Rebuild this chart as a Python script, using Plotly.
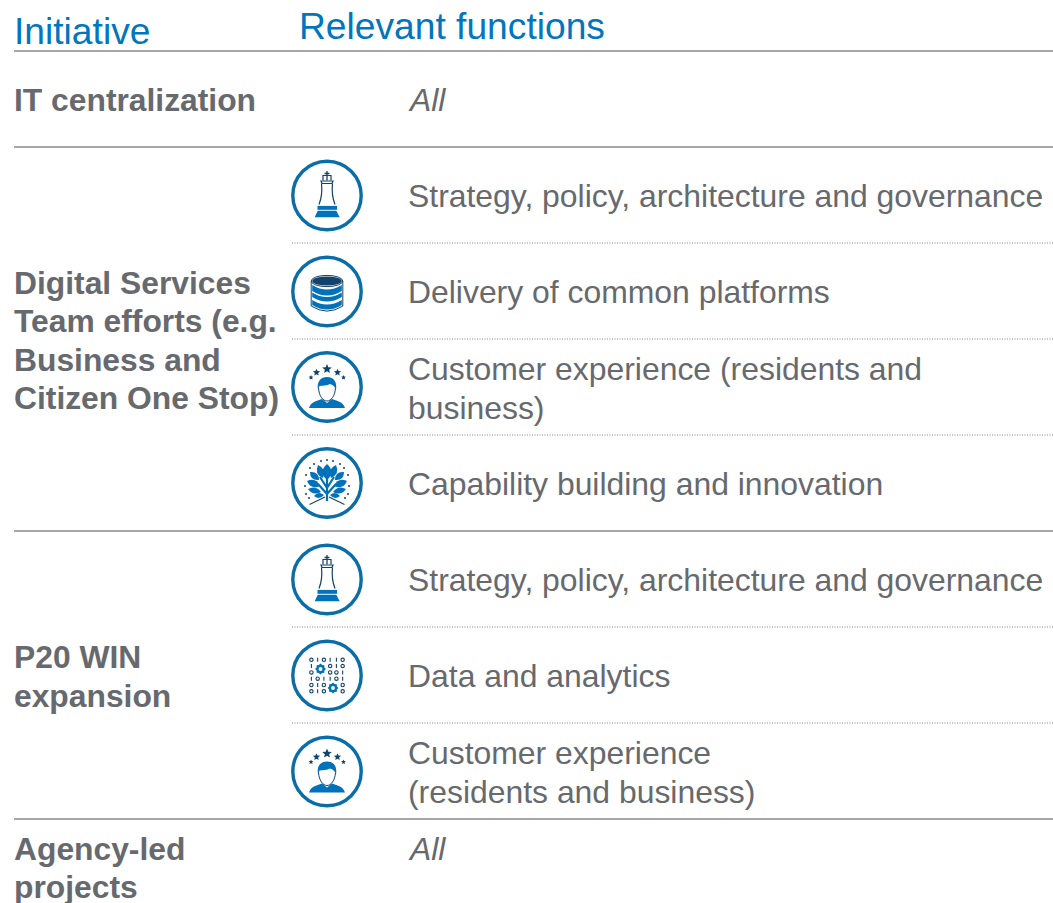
import math
import plotly.graph_objects as go

W, H = 1053, 903
BLUE = "#0076BE"
ICON = "#0072BC"
RING = "#0A6DA8"
NAVY = "#13426B"
GREY = "#66696E"
RULE = "#A6A6A6"
DOT = "#A9A9A9"
FONT = "Liberation Sans, Arial, sans-serif"

# ---------- content ----------
headers = [("Initiative", 14, 31), ("Relevant functions", 299, 26)]
initiatives = [
    ("IT centralization", 14, 100),
    ("Digital Services", 14, 283),
    ("Team efforts (e.g.", 14, 321),
    ("Business and", 14, 360),
    ("Citizen One Stop)", 14, 398),
    ("P20 WIN", 14, 657),
    ("expansion", 14, 696),
    ("Agency-led", 14, 849),
    ("projects", 14, 887),
]
all_labels = [("All", 408, 100), ("All", 408, 849)]
functions = [
    ("Strategy, policy, architecture and governance", 196),
    ("Delivery of common platforms", 292),
    ("Customer experience (residents and", 369),
    ("business)", 408),
    ("Capability building and innovation", 484),
    ("Strategy, policy, architecture and governance", 580),
    ("Data and analytics", 676),
    ("Customer experience", 753),
    ("(residents and business)", 792),
]
solid_rules = [51, 147, 531, 819]
dotted_rules = [243, 339, 435, 627, 723]
icons = [
    ("chess", 195.5), ("database", 291.5), ("person", 387), ("tree", 483),
    ("chess", 579.5), ("binary", 675.5), ("person", 771.5),
]
ICON_X = 327
binary_rows = ["010110", "1  010", "0  001", "101101", "010  0", "010  0"]

# ---------- helpers ----------
shapes = []


def add_path(d, fill=None, color=None, width=0):
    shapes.append(dict(
        type="path", path=d, fillcolor=fill or "rgba(0,0,0,0)",
        line=dict(color=color or "rgba(0,0,0,0)", width=width), layer="above",
    ))


def poly(pts, cx, cy, closed=True):
    s = "M" + " L".join(f"{cx + x:.2f},{cy + y:.2f}" for x, y in pts)
    return s + (" Z" if closed else "")


def ellipse(cx, cy, rx, ry, fill=None, color=None, width=0):
    shapes.append(dict(
        type="circle", x0=cx - rx, x1=cx + rx, y0=cy - ry, y1=cy + ry,
        fillcolor=fill or "rgba(0,0,0,0)",
        line=dict(color=color or "rgba(0,0,0,0)", width=width), layer="above",
    ))


def star(cx, cy, r, fill=NAVY):
    pts = []
    for i in range(10):
        a = -math.pi / 2 + i * math.pi / 5
        rr = r if i % 2 == 0 else r * 0.45
        pts.append((rr * math.cos(a), rr * math.sin(a)))
    add_path(poly(pts, cx, cy), fill=fill)


def leaf(cx, cy, bx, by, tx, ty, w, fill=ICON):
    bx, by, tx, ty = cx + bx, cy + by, cx + tx, cy + ty
    mx, my = (bx + tx) / 2, (by + ty) / 2
    dx, dy = tx - bx, ty - by
    n = math.hypot(dx, dy)
    px, py = -dy / n * w, dx / n * w
    add_path(
        f"M{bx:.2f},{by:.2f} Q{mx + px:.2f},{my + py:.2f} {tx:.2f},{ty:.2f} "
        f"Q{mx - px:.2f},{my - py:.2f} {bx:.2f},{by:.2f} Z", fill=fill)


def ring(cx, cy):
    ellipse(cx, cy, 34.2, 34.2, fill="#FFFFFF", color=RING, width=3.4)


def chess(cx, cy):
    ring(cx, cy)
    add_path(poly([(-12.3, 21.7), (12.7, 21.7), (9.3, 15.2), (-9.3, 15.2)], cx, cy), fill=ICON)
    add_path(poly([(-9.5, 10.4), (10, 10.4), (10, 14.3), (-9.5, 14.3)], cx, cy), fill=ICON)
    # body outline
    add_path(f"M{cx - 5.5},{cy - 12} C{cx - 4.5},{cy - 3} {cx - 6},{cy + 4} {cx - 8},{cy + 9}",
             color=NAVY, width=1.2)
    add_path(f"M{cx + 5.5},{cy - 12} C{cx + 4.5},{cy - 3} {cx + 6},{cy + 4} {cx + 8},{cy + 9}",
             color=NAVY, width=1.2)
    add_path(poly([(-6, -14.5), (6, -14.5), (5, -12), (-5, -12)], cx, cy), color=NAVY, width=1.2)
    add_path(f"M{cx - 4},{cy - 15} L{cx - 4},{cy - 20} L{cx + 4},{cy - 20} L{cx + 4},{cy - 15}",
             color=NAVY, width=1.2)
    add_path(f"M{cx},{cy - 24.5} L{cx},{cy - 15} M{cx - 2.5},{cy - 22} L{cx + 2.5},{cy - 22}",
             color=NAVY, width=1.3)


def database(cx, cy):
    ring(cx, cy)
    rx, ry = 14.8, 4.6
    t, b = -10.5, 14.5
    # outer outline
    add_path(f"M{cx - rx - 1},{cy + t} L{cx - rx - 1},{cy + b} "
             f"Q{cx},{cy + b + 2 * ry + 1} {cx + rx + 1},{cy + b} L{cx + rx + 1},{cy + t}",
             color=NAVY, width=1)
    ellipse(cx, cy + t, rx + 1, ry + 1, fill="#FFFFFF", color=NAVY, width=1)
    for top, bot in [(-6.5, -0.5), (1, 5.5), (8.5, 13.5)]:
        add_path(f"M{cx - rx},{cy + top} Q{cx},{cy + top + 2 * ry} {cx + rx},{cy + top} "
                 f"L{cx + rx},{cy + bot} Q{cx},{cy + bot + 2 * ry} {cx - rx},{cy + bot} Z", fill=ICON)
    ellipse(cx, cy + t, rx, ry, fill=NAVY)


def person(cx, cy):
    ring(cx, cy)
    for dx, dy, r in [(-16, -9.5, 2.6), (-10.5, -14.5, 3.8), (0, -18, 5), (10.5, -14.5, 3.8), (16.5, -9.5, 2.6)]:
        star(cx + dx, cy + dy, r)
    # shoulders
    add_path(f"M{cx - 18},{cy + 21} C{cx - 16},{cy + 15} {cx - 11},{cy + 14} {cx - 5},{cy + 12} "
             f"L{cx},{cy + 16} L{cx + 5},{cy + 12} C{cx + 11},{cy + 14} {cx + 16},{cy + 15} {cx + 18},{cy + 21} Z",
             fill=ICON)
    # face outline
    add_path(f"M{cx - 8.5},{cy + 1} C{cx - 8},{cy + 9} {cx - 4},{cy + 14} {cx},{cy + 14} "
             f"C{cx + 4},{cy + 14} {cx + 8},{cy + 9} {cx + 8.5},{cy + 1}", color=NAVY, width=1)
    # hair
    add_path(f"M{cx - 9},{cy + 3} C{cx - 10.5},{cy - 6} {cx - 6},{cy - 10} {cx},{cy - 10} "
             f"C{cx + 6},{cy - 10} {cx + 10.5},{cy - 6} {cx + 9},{cy + 3} "
             f"C{cx + 7.5},{cy - 1} {cx + 6},{cy - 2} {cx + 3},{cy - 3} "
             f"C{cx},{cy - 1.5} {cx - 4},{cy - 1.5} {cx - 7.5},{cy - 1} Z", fill=ICON)


def tree(cx, cy):
    ring(cx, cy)
    # trunk and branches
    add_path(f"M{cx},{cy + 18} L{cx},{cy - 6} M{cx},{cy + 11} L{cx - 9},{cy + 1} "
             f"M{cx},{cy + 11} L{cx + 9},{cy + 1} M{cx},{cy + 5} L{cx - 7},{cy - 6} "
             f"M{cx},{cy + 5} L{cx + 7},{cy - 6}", color=ICON, width=2.2)
    # ground lines
    add_path(f"M{cx - 17.5},{cy + 21.5} L{cx - 2},{cy + 14}", color=NAVY, width=1.2)
    add_path(f"M{cx + 17.5},{cy + 21.5} L{cx + 2},{cy + 14}", color=NAVY, width=1.2)
    # leaves: base x/y, tip x/y, half-width
    for bx, by, tx, ty, w in [
        (0, -3, 0, -19, 9), (-4, -5, -9, -18, 7), (4, -5, 9, -18, 7),
        (-8, -3, -17, -11, 6.5), (8, -3, 17, -11, 6.5), (-7, 3, -20, -2, 7), (7, 3, 20, -2, 7),
        (-6, 9, -19, 6, 6), (6, 9, 19, 6, 6), (-3, 12, -13, 13, 5), (3, 12, 13, 13, 5),
    ]:
        leaf(cx, cy, bx, by, tx, ty, w)
    for dx, dy in [(-17, -15), (-13, -19), (-6, -22), (0, -23), (6, -22), (13, -19), (17, -15),
                   (-21, -8), (21, -8), (-22, 3), (22, 3), (-21, 11), (21, 11), (-18, 15), (18, 15)]:
        ellipse(cx + dx, cy + dy, 1, 1, fill=NAVY)


def gear(cx, cy, r):
    pts = []
    for i in range(16):
        a = i * math.pi / 8
        rr = r * (1.18 if i % 2 == 0 else 0.92)
        pts.append((rr * math.cos(a), rr * math.sin(a)))
    add_path(poly(pts, cx, cy), fill=ICON)
    ellipse(cx, cy, r * 0.42, r * 0.42, fill="#FFFFFF")


def binary(cx, cy):
    ring(cx, cy)
    for r, row in enumerate(binary_rows):
        yy = cy - 15.7 + r * 6.3
        for c, ch in enumerate(row):
            xx = cx - 15.6 + c * 6.25
            if ch == "0":
                ellipse(xx, yy, 1.7, 1.7, color=NAVY, width=1.1)
            elif ch == "1":
                add_path(f"M{xx},{yy - 2} L{xx},{yy + 2}", color=NAVY, width=1.1)
    gear(cx - 6.5, cy - 6.5, 4.6)
    gear(cx + 6, cy + 12.5, 4.6)


drawers = dict(chess=chess, database=database, person=person, tree=tree, binary=binary)

# ---------- rules ----------
for y in solid_rules:
    shapes.append(dict(type="line", x0=14, x1=W, y0=y, y1=y, line=dict(color=RULE, width=2)))
for y in dotted_rules:
    shapes.append(dict(type="line", x0=292, x1=W, y0=y, y1=y, line=dict(color=DOT, width=1.6, dash="1px,1.5px")))

for name, y in icons:
    drawers[name](ICON_X, y)

# ---------- text ----------
ann = []


def text(s, x, y, size, color, bold=False, italic=False):
    if bold:
        s = f"<b>{s}</b>"
    if italic:
        s = f"<i>{s}</i>"
    ann.append(dict(
        text=s, x=x, y=y, xref="x", yref="y", xanchor="left", yanchor="middle",
        showarrow=False, align="left", borderpad=0, borderwidth=0,
        font=dict(family=FONT, size=size, color=color),
    ))


for s, x, y in headers:
    text(s, x, y, 37.2, BLUE)
for s, x, y in initiatives:
    text(s, x, y, 31.8, GREY, bold=True)
for s, x, y in all_labels:
    text(s, x, y, 31.8, GREY, italic=True)
for s, y in functions:
    text(s, 408, y, 31.9, GREY)

fig = go.Figure()
fig.update_layout(
    width=W, height=H, margin=dict(l=0, r=0, t=0, b=0),
    paper_bgcolor="#FFFFFF", plot_bgcolor="#FFFFFF", showlegend=False,
    xaxis=dict(range=[0, W], visible=False, fixedrange=True),
    yaxis=dict(range=[H, 0], visible=False, fixedrange=True),
    shapes=shapes, annotations=ann,
)
fig.write_html("out.html", config=dict(displayModeBar=False),
               post_script="document.body.style.margin='0';document.body.style.overflow='hidden';")
